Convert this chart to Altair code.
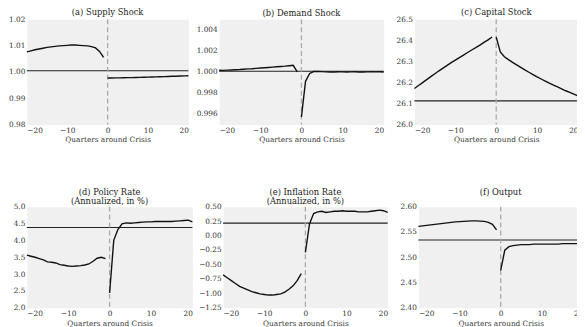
import altair as alt
import pandas as pd

quarters_pre = list(range(-20, 0))
quarters_post = list(range(0, 21))

supply_pre = [1.0076, 1.0080, 1.0084, 1.0087, 1.0090, 1.0093, 1.0095, 1.0097, 1.0099, 1.0100,
              1.0101, 1.0102, 1.0102, 1.0101, 1.0100, 1.0099, 1.0096, 1.0091, 1.0078, 1.0055]
supply_post = [0.99765, 0.99768, 0.99770, 0.99772, 0.99775, 0.99778, 0.99780, 0.99785, 0.99790,
               0.99795, 0.99800, 0.99805, 0.99810, 0.99815, 0.99820, 0.99825, 0.99830, 0.99835,
               0.99840, 0.99846, 0.99852]
supply_ss = 1.0004

demand_pre = [1.00015, 1.00014, 1.00016, 1.00018, 1.00020, 1.00022, 1.00025, 1.00028, 1.00030,
              1.00033, 1.00036, 1.00039, 1.00042, 1.00045, 1.00048, 1.00051, 1.00054, 1.00058,
              1.00062, 1.00000]
demand_post = [0.99570, 0.99910, 0.99985, 1.00003, 1.00005, 1.00002, 1.00000, 0.99998, 0.99999,
               1.00001, 1.00000, 0.99999, 1.00000, 1.00001, 0.99999, 0.99998, 1.00000, 1.00001,
               1.00000, 1.00001, 0.99999]
demand_ss = 1.00005

capital_pre = [26.171, 26.185, 26.199, 26.213, 26.227, 26.241, 26.255, 26.268, 26.281, 26.294,
               26.306, 26.318, 26.330, 26.342, 26.354, 26.365, 26.377, 26.390, 26.402, 26.416]
capital_post = [26.415, 26.345, 26.322, 26.308, 26.295, 26.283, 26.271, 26.259, 26.248, 26.237,
                26.226, 26.216, 26.206, 26.196, 26.187, 26.178, 26.169, 26.160, 26.152, 26.144,
                26.136]
capital_ss = 26.112

policy_pre = [3.56, 3.53, 3.50, 3.46, 3.42, 3.36, 3.35, 3.33, 3.28, 3.26,
              3.24, 3.23, 3.24, 3.25, 3.27, 3.30, 3.38, 3.47, 3.50, 3.46]
policy_post = [2.44, 4.00, 4.32, 4.49, 4.52, 4.51, 4.52, 4.53, 4.54, 4.55, 4.55,
               4.56, 4.56, 4.56, 4.56, 4.56, 4.57, 4.58, 4.59, 4.60, 4.55]
policy_ss = 4.38

infl_pre = [-0.68, -0.73, -0.78, -0.83, -0.88, -0.91, -0.94, -0.97, -0.99, -1.01,
            -1.02, -1.03, -1.03, -1.02, -1.01, -0.98, -0.93, -0.87, -0.78, -0.66]
infl_post = [-0.29, 0.20, 0.38, 0.41, 0.42, 0.40, 0.41, 0.42, 0.42, 0.43, 0.42,
             0.42, 0.42, 0.41, 0.41, 0.41, 0.42, 0.43, 0.44, 0.43, 0.40]
infl_ss = 0.215

output_pre = [2.561, 2.562, 2.563, 2.564, 2.565, 2.566, 2.567, 2.568, 2.569, 2.570,
              2.5705, 2.571, 2.5715, 2.572, 2.572, 2.5715, 2.571, 2.569, 2.565, 2.554]
output_post = [2.474, 2.514, 2.521, 2.523, 2.524, 2.525, 2.525, 2.525, 2.526, 2.526, 2.526,
               2.526, 2.526, 2.526, 2.526, 2.527, 2.527, 2.527, 2.527, 2.527, 2.527]
output_ss = 2.534

xticks_top = [-20, -10, 0, 10, 20]
xticks_bottom = [-20, -15, -10, -5, 0, 5, 10, 15, 20]

FONT = "DejaVu Serif"


def panel(title, pre, post, ss, ydom, yticks, yfmt, xticks, w, h, toff):
    df = pd.DataFrame({
        "q": quarters_pre + quarters_post,
        "v": pre + post,
        "seg": ["pre"] * len(pre) + ["post"] * len(post),
    })
    xs = alt.Scale(domain=[-20, 20], nice=False)
    ys = alt.Scale(domain=ydom, nice=False, zero=False)
    xax = alt.Axis(values=xticks, title="Quarters around Crisis", format="d")
    yax = alt.Axis(values=yticks, format=yfmt, title=None)
    hline = alt.Chart(pd.DataFrame({"v": [ss]})).mark_rule(
        color="#222222", strokeWidth=1.1
    ).encode(y=alt.Y("v:Q", scale=ys, axis=yax))
    vline = alt.Chart(pd.DataFrame({"q": [0]})).mark_rule(
        color="#aaaaaa", strokeWidth=1.3, strokeDash=[5, 3]
    ).encode(x=alt.X("q:Q", scale=xs, axis=xax))
    line = alt.Chart(df).mark_line(color="#111111", strokeWidth=1.4).encode(
        x=alt.X("q:Q", scale=xs, axis=xax),
        y=alt.Y("v:Q", scale=ys, axis=yax),
        detail="seg:N",
    )
    return alt.layer(hline, vline, line).properties(
        width=w, height=h,
        title=alt.TitleParams(text=title, frame="group", offset=toff),
    )


a = panel(["(a) Supply Shock"], supply_pre, supply_post, supply_ss, [0.98, 1.02],
          [0.98, 0.99, 1.00, 1.01, 1.02], ".2f", xticks_top, 163, 106, -1)
b = panel(["(b) Demand Shock"], demand_pre, demand_post, demand_ss, [0.995, 1.005],
          [0.996, 0.998, 1.000, 1.002, 1.004], ".3f", xticks_top, 166, 106, 1.5)
c = panel(["(c) Capital Stock"], capital_pre, capital_post, capital_ss, [26.0, 26.5],
          [26.0, 26.1, 26.2, 26.3, 26.4, 26.5], ".1f", xticks_top, 165, 106, -1)
d = panel(["(d) Policy Rate", "(Annualized, in %)"], policy_pre, policy_post, policy_ss,
          [2.0, 5.0], [2.0, 2.5, 3.0, 3.5, 4.0, 4.5, 5.0], ".1f", xticks_bottom, 167, 102, -3)
e = panel(["(e) Inflation Rate", "(Annualized, in %)"], infl_pre, infl_post, infl_ss,
          [-1.25, 0.5], [-1.25, -1.0, -0.75, -0.5, -0.25, 0.0, 0.25, 0.5], ".2f",
          xticks_bottom, 166, 102, -3)
f = panel(["(f) Output", " "], output_pre, output_post, output_ss, [2.40, 2.60],
          [2.40, 2.45, 2.50, 2.55, 2.60], ".2f", xticks_bottom, 166, 102, -3)

top = alt.hconcat(a, b, c, spacing=31, bounds="flush")
bottom = alt.hconcat(d, e, f, spacing=31, bounds="flush")

chart = alt.vconcat(top, bottom, spacing=44).properties(
    padding={"left": 0, "top": -2, "right": -10, "bottom": 0},
    background="#ffffff",
).configure_axis(
    labelFont=FONT, labelFontSize=7.4, labelColor="#333333",
    titleFont=FONT, titleFontSize=7.4, titleFontWeight="normal", titleColor="#333333",
    ticks=False, domain=False, grid=False, labelPadding=2, titlePadding=2,
).configure_title(
    font=FONT, fontSize=8.4, fontWeight="normal", color="#222222", lineHeight=9,
).configure_view(
    fill="#f0f0f0", stroke="transparent",
)

chart.save("out.html", embed_options={"renderer": "svg", "actions": False})
